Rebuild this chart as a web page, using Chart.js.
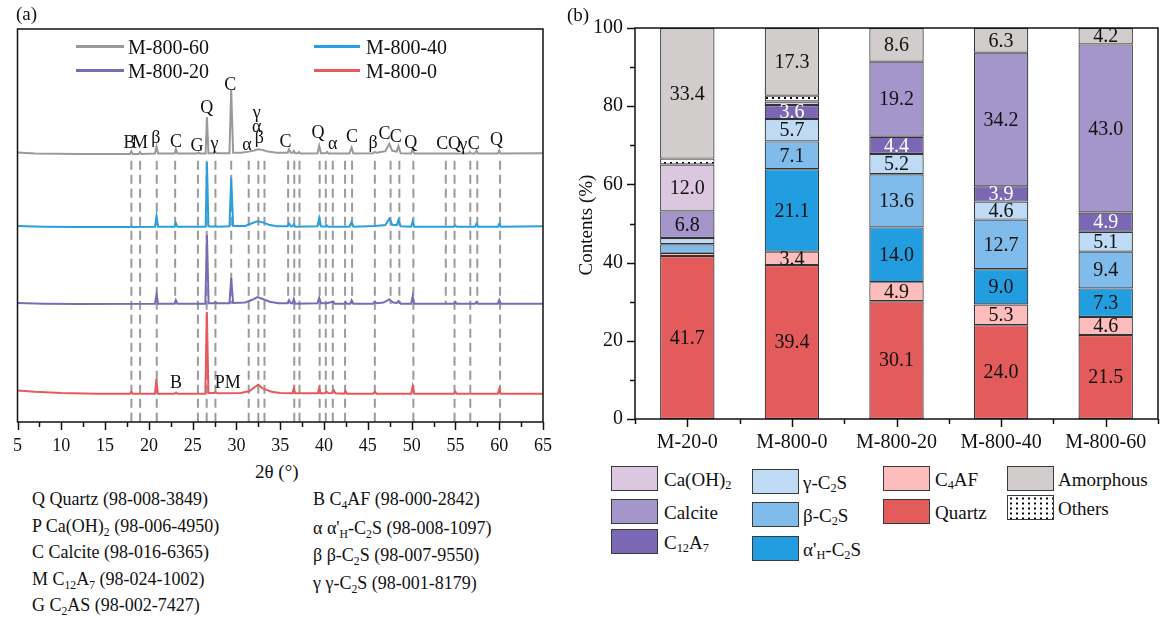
<!DOCTYPE html>
<html>
<head>
<meta charset="utf-8">
<script src="https://cdn.jsdelivr.net/npm/chart.js@4.4.1/dist/chart.umd.min.js"></script>
<style>
  body { margin: 0; background: #fff; width: 1163px; height: 619px; position: relative; overflow: hidden;
         font-family: "Liberation Serif", "Times New Roman", serif; color: #111; }
  .t { position: absolute; white-space: nowrap; line-height: 1; }
  .ln { position: absolute; height: 3px; }
  .sw { position: absolute; width: 45px; height: 23px; border: 1.5px solid #3a3a3a; box-sizing: content-box; }
  .lg { position: absolute; font-size: 19px; white-space: nowrap; line-height: 1; transform: translateY(-50%); }
  .key { font-size: 18px; }
  sub { font-size: 0.65em; vertical-align: -0.3em; line-height: 0; }
  #wrapA { position: absolute; left: 0; top: 0; width: 580px; height: 460px; }
  #wrapB { position: absolute; left: 560px; top: 0; width: 603px; height: 460px; }
</style>
</head>
<body>
<div id="wrapA"><canvas id="xrdChart"></canvas></div>
<div id="wrapB"><canvas id="phaseChart"></canvas></div>

<!-- panel labels -->
<div class="t" style="left:16px;top:4px;font-size:19px;">(a)</div>
<div class="t" style="left:567px;top:5px;font-size:19px;">(b)</div>

<!-- legend inside (a) -->
<div class="ln" style="left:76px;top:45px;width:48px;background:#9a9a9a;"></div>
<div class="t" style="left:128px;top:37px;font-size:20px;">M-800-60</div>
<div class="ln" style="left:314px;top:45px;width:46px;background:#2a9fe0;"></div>
<div class="t" style="left:366px;top:37px;font-size:20px;">M-800-40</div>
<div class="ln" style="left:76px;top:69px;width:48px;background:#7a6bb8;"></div>
<div class="t" style="left:128px;top:61px;font-size:20px;">M-800-20</div>
<div class="ln" style="left:314px;top:69px;width:46px;background:#e9585c;"></div>
<div class="t" style="left:366px;top:61px;font-size:20px;">M-800-0</div>

<!-- axis title and phase key under (a) -->
<div class="lg" style="left:255px;top:471px;">2θ (°)</div>
<div class="lg key" style="left:32px;top:499px;">Q Quartz (98-008-3849)</div>
<div class="lg key" style="left:32px;top:526px;">P Ca(OH)<sub>2</sub> (98-006-4950)</div>
<div class="lg key" style="left:32px;top:552px;">C Calcite (98-016-6365)</div>
<div class="lg key" style="left:32px;top:579px;">M C<sub>12</sub>A<sub>7</sub> (98-024-1002)</div>
<div class="lg key" style="left:32px;top:605px;">G C<sub>2</sub>AS (98-002-7427)</div>
<div class="lg key" style="left:313px;top:499px;">B C<sub>4</sub>AF (98-000-2842)</div>
<div class="lg key" style="left:313px;top:528px;">α α'<sub>H</sub>-C<sub>2</sub>S (98-008-1097)</div>
<div class="lg key" style="left:313px;top:555px;">β β-C<sub>2</sub>S (98-007-9550)</div>
<div class="lg key" style="left:313px;top:583px;">γ γ-C<sub>2</sub>S (98-001-8179)</div>

<!-- (b) y title -->
<div class="t" style="left:585px;top:225px;font-size:19px;transform:translate(-50%,-50%) rotate(-90deg);">Contents (%)</div>

<!-- legend under (b) -->
<div class="sw" style="left:611px;top:466px;background:#dcc7e1;"></div>
<div class="lg" style="left:664px;top:479px;">Ca(OH)<sub>2</sub></div>
<div class="sw" style="left:611px;top:499px;background:#a496cb;"></div>
<div class="lg" style="left:664px;top:512px;">Calcite</div>
<div class="sw" style="left:611px;top:529px;background:#7b68b5;"></div>
<div class="lg" style="left:664px;top:542px;">C<sub>12</sub>A<sub>7</sub></div>

<div class="sw" style="left:752px;top:469px;background:#bfdaf5;"></div>
<div class="lg" style="left:803px;top:482px;">γ-C<sub>2</sub>S</div>
<div class="sw" style="left:752px;top:502px;background:#7fbceb;"></div>
<div class="lg" style="left:803px;top:515px;">β-C<sub>2</sub>S</div>
<div class="sw" style="left:752px;top:536px;background:#229de0;"></div>
<div class="lg" style="left:803px;top:549px;">α'<sub>H</sub>-C<sub>2</sub>S</div>

<div class="sw" style="left:883px;top:466px;background:#fdbdbd;"></div>
<div class="lg" style="left:935px;top:479px;">C<sub>4</sub>AF</div>
<div class="sw" style="left:883px;top:499px;background:#e35b5b;"></div>
<div class="lg" style="left:935px;top:512px;">Quartz</div>

<div class="sw" style="left:1007px;top:466px;background:#d2cdcd;"></div>
<div class="lg" style="left:1058px;top:479px;">Amorphous</div>
<div class="sw" style="left:1007px;top:495px;background:radial-gradient(circle, #000 0.9px, transparent 1.3px) 0 0/6px 5px, #fff;"></div>
<div class="lg" style="left:1058px;top:508px;">Others</div>

<script>
// ---------- (a) XRD patterns: [2θ, intensity above own baseline] ----------
const xrd60 = [[5,0.4],[7,0.1],[12,0],[17.85,0],[18.0,0.7],[18.15,0],[18.85,0],[19.0,0.5],[19.15,0],[20.7,0.1],[20.88,1.9],[21.05,0.1],
  [22.95,0.1],[23.08,1.3],[23.25,0.1],[25.5,0.1],[25.65,0.4],[25.8,0.1],[26.48,0.1],[26.63,9.4],[26.8,0.2],[27.45,0.2],[27.6,0.5],[27.75,0.2],
  [29.2,0.2],[29.4,16.3],[29.62,0.3],[30.5,0.3],[31.4,0.6],[32.0,0.9],[32.5,1.2],[33.0,1.0],[33.6,0.6],[34.6,0.3],[35.85,0.3],[36.0,1.2],
  [36.2,0.3],[36.4,0.3],[36.55,0.8],[36.7,0.2],[37.0,0.2],[37.15,0.5],[37.3,0.1],[39.25,0.2],[39.45,2.1],[39.65,0.2],[40.2,0.2],[40.35,0.5],
  [40.5,0.1],[42.9,0.1],[43.15,1.6],[43.35,0.1],[45.6,0.2],[45.8,0.5],[46.0,0.3],[47.0,0.7],[47.45,2.6],[47.8,0.8],[48.3,0.6],[48.5,2.0],
  [48.75,0.2],[49.95,0.1],[50.12,1.3],[50.3,0.1],[56.5,0.1],[56.65,0.5],[56.8,0.1],[57.25,0.1],[57.4,0.9],[57.55,0.1],[59.85,0.1],[60.0,0.9],
  [60.15,0.1],[65,0.2]];
const xrd40 = [[5,0.3],[8,0.1],[12,0],[17.9,0],[18.0,0.3],[18.1,0],[20.7,0.1],[20.88,2.8],[21.05,0.1],[22.95,0.1],[23.08,1.0],[23.25,0.1],
  [26.48,0.1],[26.63,16.5],[26.8,0.2],[27.45,0.1],[27.6,0.3],[27.75,0.1],[29.2,0.2],[29.4,12.5],[29.62,0.3],[31.0,0.3],[31.7,0.9],[32.4,1.5],
  [33.0,1.2],[33.7,0.6],[34.6,0.2],[35.85,0.2],[36.0,0.9],[36.2,0.2],[36.4,0.2],[36.55,0.7],[36.7,0.1],[39.25,0.2],[39.45,2.3],[39.65,0.2],
  [40.2,0.1],[40.35,0.4],[40.5,0.1],[42.9,0.1],[43.15,1.3],[43.35,0.1],[45.8,0.3],[47.0,0.5],[47.45,2.1],[47.8,0.6],[48.3,0.5],[48.5,1.8],
  [48.75,0.2],[49.95,0.1],[50.12,1.5],[50.3,0.1],[54.85,0.1],[55.0,0.4],[55.15,0.1],[57.25,0.1],[57.4,0.8],[57.55,0.1],[59.85,0.1],[60.0,0.8],
  [60.15,0.1],[65,0.2]];
const xrd20 = [[5,0.3],[8,0.1],[12,0],[20.7,0.1],[20.88,2.5],[21.05,0.1],[22.95,0.1],[23.08,1.0],[23.25,0.1],[26.45,0.1],[26.63,17.6],[26.82,0.2],
  [27.45,0.2],[27.6,0.5],[27.75,0.2],[29.2,0.2],[29.4,6.6],[29.62,0.3],[31.0,0.4],[31.8,1.1],[32.4,1.8],[33.0,1.3],[33.8,0.6],[34.8,0.2],
  [35.85,0.2],[36.0,1.0],[36.2,0.2],[36.4,0.2],[36.55,1.3],[36.7,0.1],[39.25,0.2],[39.45,1.6],[39.65,0.2],[40.3,0.2],[41.05,0.6],[41.2,0.1],
  [42.3,0.1],[42.45,0.5],[42.6,0.1],[43.0,0.1],[43.15,1.0],[43.35,0.1],[45.6,0.1],[45.8,0.6],[46.0,0.2],[46.8,0.4],[47.45,1.2],[47.9,0.4],
  [48.3,0.3],[48.5,0.8],[48.75,0.1],[49.95,0.1],[50.12,2.0],[50.3,0.1],[54.85,0.1],[55.0,0.5],[55.15,0.1],[57.25,0.1],[57.4,0.5],[57.55,0.1],
  [59.85,0.1],[60.0,1.0],[60.15,0.1],[65,0.1]];
const xrd0 = [[5,0.9],[7,0.6],[10,0.3],[14,0.1],[17.85,0.1],[18.0,0.6],[18.15,0.1],[20.7,0.1],[20.86,3.8],[21.02,0.1],[22.95,0.1],[23.1,0.4],
  [23.25,0.1],[26.45,0.1],[26.62,20.9],[26.8,0.3],[27.45,0.3],[27.6,0.5],[27.8,0.2],[30.5,0.3],[31.5,0.8],[32.1,1.8],[32.5,2.4],[32.9,1.6],
  [33.3,1.2],[34.0,0.6],[35.0,0.3],[36.4,0.2],[36.55,1.5],[36.7,0.2],[39.3,0.2],[39.45,1.5],[39.6,0.2],[40.1,0.2],[40.3,0.6],[40.5,0.2],
  [40.9,0.3],[41.1,1.0],[41.3,0.2],[42.3,0.1],[42.45,0.8],[42.6,0.1],[45.6,0.1],[45.8,0.6],[46.0,0.1],[49.95,0.1],[50.12,2.0],[50.3,0.1],
  [54.85,0.1],[55.0,0.6],[55.15,0.1],[59.85,0.1],[60.0,1.3],[60.15,0.1],[65,0.1]];

const xrdNames = ['M-800-60', 'M-800-40', 'M-800-20', 'M-800-0'];
const xrdOffset = [68.2, 49.6, 30.0, 7.1];
const xrdColors = ['#9a9a9a', '#2a9fe0', '#7a6bb8', '#e9585c'];

// reference peak positions (dashed guides)
const refLines = [18.0, 19.0, 20.9, 25.6, 26.6, 27.6, 31.4, 32.5, 33.2, 36.6, 37.2, 39.5, 40.2, 41.0, 42.4, 45.8, 50.2, 54.9, 56.7, 60.1];
const calciteLines = [23.0, 29.4, 35.9, 43.2, 47.6, 48.6, 53.9, 57.5];
const dashTop = 66.5;

// phase letters above the top pattern
const peakTags = ['B','M','β','C','G','Q','γ','C','α','β','α','γ','C','Q','α','C','β','C','C','Q','C','Q','γ','C','Q','B','PM'];
const peakTagX = [17.8,19.0,20.8,23.1,25.5,26.6,27.5,29.3,31.2,32.6,32.3,32.3,35.6,39.3,41.0,43.2,45.6,46.9,48.2,49.9,53.5,54.9,55.9,57.1,59.7,23.1,29.0];
const peakTagY = [71.0,71.0,72.3,71.2,70.2,79.9,70.7,85.8,70.5,72.3,75.1,78.6,71.2,73.5,70.7,72.5,71.0,73.3,72.5,71.0,70.7,70.7,70.5,70.7,71.8,9.9,9.9];

// ---------- (b) phase contents (%) ----------
const samples = ['M-20-0', 'M-800-0', 'M-800-20', 'M-800-40', 'M-800-60'];
const quartz    = [41.7, 39.4, 30.1, 24.0, 21.5];
const c4af      = [0.8, 3.4, 4.9, 5.3, 4.6];
const alphaC2S  = [null, 21.1, 14.0, 9.0, 7.3];
const betaC2S   = [2.2, 7.1, 13.6, 12.7, 9.4];
const gammaC2S  = [1.6, 5.7, 5.2, 4.6, 5.1];
const c12a7     = [null, 3.6, 4.4, 3.9, 4.9];
const calcite   = [6.8, null, 19.2, 34.2, 43.0];
const caOH2     = [12.0, 0.9, null, null, null];
const others    = [1.5, 1.5, null, null, null];
const amorphous = [33.4, 17.3, 8.6, 6.3, 4.2];

const SERIF = '"Liberation Serif", "Times New Roman", serif';
Chart.defaults.font.family = SERIF;
Chart.defaults.color = '#111';
Chart.defaults.animation = false;

const frameTicksA = {
    id: 'frameTicksA',
    afterDraw(chart) {
        const { ctx, chartArea: a, scales: { x, y } } = chart;
        ctx.save();
        ctx.strokeStyle = '#111';
        ctx.lineWidth = 1.5;
        ctx.strokeRect(a.left, a.top, a.right - a.left, a.bottom - a.top);
        for (let v = 5; v <= 65; v += 2.5) {
            const px = Math.round(x.getPixelForValue(v)) + 0.5;
            ctx.beginPath();
            ctx.moveTo(px, a.bottom);
            ctx.lineTo(px, a.bottom + (v % 5 === 0 ? 8 : 5));
            ctx.stroke();
        }
        // phase tags
        ctx.fillStyle = '#111';
        ctx.font = '18px ' + SERIF;
        ctx.textAlign = 'center';
        ctx.textBaseline = 'middle';
        peakTags.forEach((t, i) => {
            ctx.fillText(t, x.getPixelForValue(peakTagX[i]), y.getPixelForValue(peakTagY[i]));
        });
        ctx.restore();
    }
};

const initXrdChart = () => {
    const ctx = document.getElementById('xrdChart').getContext('2d');
    const patterns = [xrd60, xrd40, xrd20, xrd0];
    const traceSets = patterns.map((pts, i) => ({
        label: xrdNames[i],
        data: pts.map(p => ({ x: p[0], y: p[1] + xrdOffset[i] })),
        borderColor: xrdColors[i],
        borderWidth: 2,
        pointRadius: 0,
        tension: 0,
        order: 0
    }));
    const guide = (v, bottom) => ({
        data: [{ x: v, y: dashTop }, { x: v, y: bottom }],
        borderColor: '#9b9b9b',
        borderWidth: 2,
        borderDash: [9, 5],
        pointRadius: 0,
        order: 1
    });
    const guideSets = refLines.map(v => guide(v, 0))
        .concat(calciteLines.map(v => guide(v, xrdOffset[2])));

    return new Chart(ctx, {
        type: 'line',
        data: { datasets: traceSets.concat(guideSets) },
        options: {
            responsive: true,
            maintainAspectRatio: false,
            layout: { padding: { left: 15, right: 37, top: 29, bottom: 0 } },
            scales: {
                x: {
                    type: 'linear',
                    min: 5,
                    max: 65,
                    afterFit: s => { s.height = 38; },
                    ticks: { stepSize: 5, padding: 13, font: { size: 18 }, color: '#111' },
                    grid: { display: false, drawTicks: false },
                    border: { display: false }
                },
                y: { display: false, min: 0, max: 100 }
            },
            plugins: { legend: { display: false }, tooltip: { enabled: false } }
        },
        plugins: [frameTicksA]
    });
};

const frameTicksB = {
    id: 'frameTicksB',
    afterDraw(chart) {
        const { ctx, chartArea: a, scales: { x, y } } = chart;
        ctx.save();
        ctx.strokeStyle = '#111';
        ctx.lineWidth = 1.5;
        ctx.strokeRect(a.left, a.top, a.right - a.left, a.bottom - a.top);
        for (let v = 0; v <= 100; v += 10) {
            const py = Math.round(y.getPixelForValue(v)) + 0.5;
            ctx.beginPath();
            ctx.moveTo(a.left, py);
            ctx.lineTo(a.left - (v % 20 === 0 ? 8 : 5), py);
            ctx.stroke();
        }
        const step = (a.right - a.left) / samples.length;
        for (let i = 0; i <= samples.length; i++) {
            const edge = Math.round(a.left + i * step) + 0.5;
            ctx.beginPath();
            ctx.moveTo(edge, a.bottom);
            ctx.lineTo(edge, a.bottom + 5);
            ctx.stroke();
            if (i < samples.length) {
                const c = Math.round(x.getPixelForValue(i)) + 0.5;
                ctx.beginPath();
                ctx.moveTo(c, a.bottom);
                ctx.lineTo(c, a.bottom + 8);
                ctx.stroke();
            }
        }
        ctx.restore();
    },
    afterDatasetsDraw(chart) {
        const { ctx } = chart;
        ctx.save();
        ctx.font = '20px ' + SERIF;
        ctx.textAlign = 'center';
        ctx.textBaseline = 'middle';
        chart.data.datasets.forEach((ds, i) => {
            const meta = chart.getDatasetMeta(i);
            meta.data.forEach((bar, j) => {
                const v = ds.data[j];
                if (v == null || v < 3) return;
                ctx.fillStyle = ds.valueColor || '#111';
                ctx.fillText(v.toFixed(1), bar.x, (bar.y + bar.base) / 2 + 1);
            });
        });
        ctx.restore();
    }
};

const dotPattern = () => {
    const c = document.createElement('canvas');
    c.width = 6; c.height = 5;
    const g = c.getContext('2d');
    g.fillStyle = '#fff';
    g.fillRect(0, 0, 6, 5);
    g.fillStyle = '#000';
    g.fillRect(2, 2, 2, 2);
    return g.createPattern(c, 'repeat');
};

const initPhaseChart = () => {
    const ctx = document.getElementById('phaseChart').getContext('2d');
    const layer = (label, data, color, valueColor) => ({
        label, data,
        backgroundColor: color,
        borderColor: '#333',
        borderWidth: 1.2,
        borderSkipped: false,
        valueColor
    });
    return new Chart(ctx, {
        type: 'bar',
        data: {
            labels: samples,
            datasets: [
                layer('Quartz', quartz, '#e35b5b'),
                layer('C4AF', c4af, '#fdbdbd'),
                layer("α'H-C2S", alphaC2S, '#229de0'),
                layer('β-C2S', betaC2S, '#7fbceb'),
                layer('γ-C2S', gammaC2S, '#bfdaf5'),
                layer('C12A7', c12a7, '#7b68b5', '#fff'),
                layer('Calcite', calcite, '#a496cb'),
                layer('Ca(OH)2', caOH2, '#dcc7e1'),
                layer('Others', others, dotPattern()),
                layer('Amorphous', amorphous, '#d2cdcd')
            ]
        },
        options: {
            responsive: true,
            maintainAspectRatio: false,
            layout: { padding: { left: 0, right: 5, top: 28, bottom: 0 } },
            datasets: { bar: { barPercentage: 0.52, categoryPercentage: 1 } },
            scales: {
                x: {
                    stacked: true,
                    afterFit: s => { s.height = 41; },
                    ticks: { padding: 12, font: { size: 20 }, color: '#111' },
                    grid: { display: false, drawTicks: false },
                    border: { display: false }
                },
                y: {
                    stacked: true,
                    min: 0,
                    max: 100,
                    afterFit: s => { s.width = 75; },
                    ticks: { stepSize: 20, padding: 12, font: { size: 20 }, color: '#111' },
                    grid: { display: false, drawTicks: false },
                    border: { display: false }
                }
            },
            plugins: { legend: { display: false }, tooltip: { enabled: false } }
        },
        plugins: [frameTicksB]
    });
};

initXrdChart();
initPhaseChart();
</script>
</body>
</html>
